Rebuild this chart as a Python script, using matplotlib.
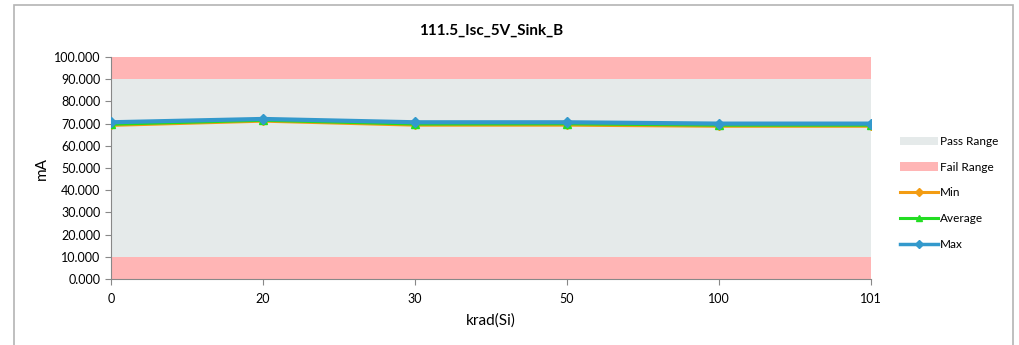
import matplotlib
matplotlib.use("Agg")
import matplotlib.pyplot as plt
from matplotlib.patches import Rectangle, Patch
from matplotlib.lines import Line2D

categories = ["0", "20", "30", "50", "100", "101"]
min_vals = [69.2, 71.1, 69.3, 69.3, 68.8, 68.8]
avg_vals = [69.7, 71.5, 69.8, 69.9, 69.3, 69.3]
max_vals = [70.6, 72.1, 70.6, 70.6, 70.0, 70.0]
pass_range = (10.0, 90.0)
fail_low = (0.0, 10.0)
fail_high = (90.0, 100.0)
y_ticks = [0, 10, 20, 30, 40, 50, 60, 70, 80, 90, 100]

plt.rcParams['font.family'] = ['Lato', 'DejaVu Sans']

fig = plt.figure(figsize=(10.19, 3.45), dpi=100)
# outer frame
fig.add_artist(Rectangle((14/1019, -0.05), (1013-14)/1019, 1 - 5/345 + 0.05,
                         transform=fig.transFigure, fill=False,
                         edgecolor="#b4b4b4", linewidth=1.2))

ax = fig.add_axes([111/1019, 1-279/345, (871-111)/1019, (279-57)/345])
x = list(range(len(categories)))
xmin, xmax = 0, len(categories) - 1

ax.axhspan(*pass_range, color="#e5eaea", lw=0, zorder=0)
ax.axhspan(*fail_low, color="#ffb5b5", lw=0, zorder=0)
ax.axhspan(*fail_high, color="#ffb5b5", lw=0, zorder=0)

ax.plot(x, min_vals, color="#f39c12", lw=2.2, marker="D", ms=4, zorder=3)
ax.plot(x, avg_vals, color="#22dd22", lw=2.2, marker="^", ms=6, zorder=4)
ax.plot(x, max_vals, color="#3399cc", lw=3, marker="D", ms=5.5, zorder=5)

ax.set_xlim(xmin, xmax)
ax.set_ylim(0, 100)
ax.set_yticks(y_ticks)
ax.set_yticklabels([f"{v:.3f}" for v in y_ticks], fontsize=9)
ax.set_xticks(x)
ax.set_xticklabels(categories, fontsize=9)
ax.tick_params(axis="both", length=4, color="#888888", width=0.8)
ax.tick_params(axis="x", pad=6)
for s in ["top", "right"]:
    ax.spines[s].set_visible(False)
ax.spines["left"].set_color("#888888")
ax.spines["bottom"].set_color("#888888")

ax.set_xlabel("krad(Si)", fontsize=11, labelpad=6)
ax.set_ylabel("mA", fontsize=11)
ax.set_title("111.5_Isc_5V_Sink_B", fontsize=11, fontweight="bold", pad=16)

handles = [
    Patch(facecolor="#e5eaea", edgecolor="none", label="Pass Range"),
    Patch(facecolor="#ffb5b5", edgecolor="none", label="Fail Range"),
    Line2D([0], [0], color="#f39c12", lw=2.2, marker="D", ms=4, label="Min"),
    Line2D([0], [0], color="#22dd22", lw=2.2, marker="^", ms=5, label="Average"),
    Line2D([0], [0], color="#3399cc", lw=2.5, marker="D", ms=4, label="Max"),
]
fig.legend(handles=handles, loc="center left", bbox_to_anchor=(895/1019, 1-193/345),
           frameon=False, fontsize=8.5, handlelength=3.2, handletextpad=0.2,
           labelspacing=1.25, borderaxespad=0)

fig.savefig("out.png", dpi=100)
